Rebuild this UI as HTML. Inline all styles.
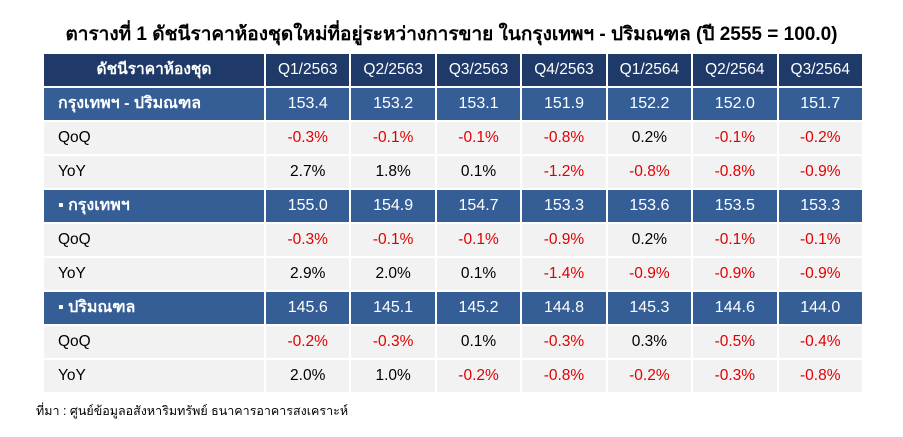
<!DOCTYPE html><html><head><meta charset="utf-8"><style>
body{margin:0;width:903px;height:437px;background:#fff;font-family:"Liberation Sans","Noto Sans CJK SC",sans-serif;position:relative;overflow:hidden}
.t{position:absolute;left:0;width:903px;top:19px;text-align:center;font-weight:bold;font-size:19px;color:#000}
table{position:absolute;left:42px;top:52px;border-collapse:collapse;table-layout:fixed;width:822px}
tr{height:34px}
td{border:2px solid #fff;padding:0;font-size:15.5px;text-align:center;line-height:16px}
td:first-child{text-align:left;padding-left:14px}
tr.h td{background:#1f3a68;color:#fff}
tr.h td:first-child{text-align:center;padding-left:0;font-weight:bold}
tr.s td{background:#355e96;color:#fff;font-size:16px}
tr.s td:first-child{font-weight:bold;font-size:16px}
tr.l td{background:#f2f2f2;color:#000}
.r{color:#e00000!important}
.f{position:absolute;left:36px;top:401px;font-size:12.5px}
</style></head><body>
<div class="t">ตารางที่ 1 ดัชนีราคาห้องชุดใหม่ที่อยู่ระหว่างการขาย ในกรุงเทพฯ - ปริมณฑล (ปี 2555 = 100.0)</div>
<table>
<colgroup><col style="width:222px"><col><col><col><col><col><col><col></colgroup>
<tr class="h"><td>ดัชนีราคาห้องชุด</td><td>Q1/2563</td><td>Q2/2563</td><td>Q3/2563</td><td>Q4/2563</td><td>Q1/2564</td><td>Q2/2564</td><td>Q3/2564</td></tr>
<tr class="s"><td>กรุงเทพฯ - ปริมณฑล</td><td>153.4</td><td>153.2</td><td>153.1</td><td>151.9</td><td>152.2</td><td>152.0</td><td>151.7</td></tr>
<tr class="l"><td>QoQ</td><td class="r">-0.3%</td><td class="r">-0.1%</td><td class="r">-0.1%</td><td class="r">-0.8%</td><td>0.2%</td><td class="r">-0.1%</td><td class="r">-0.2%</td></tr>
<tr class="l"><td>YoY</td><td>2.7%</td><td>1.8%</td><td>0.1%</td><td class="r">-1.2%</td><td class="r">-0.8%</td><td class="r">-0.8%</td><td class="r">-0.9%</td></tr>
<tr class="s"><td>▪ กรุงเทพฯ</td><td>155.0</td><td>154.9</td><td>154.7</td><td>153.3</td><td>153.6</td><td>153.5</td><td>153.3</td></tr>
<tr class="l"><td>QoQ</td><td class="r">-0.3%</td><td class="r">-0.1%</td><td class="r">-0.1%</td><td class="r">-0.9%</td><td>0.2%</td><td class="r">-0.1%</td><td class="r">-0.1%</td></tr>
<tr class="l"><td>YoY</td><td>2.9%</td><td>2.0%</td><td>0.1%</td><td class="r">-1.4%</td><td class="r">-0.9%</td><td class="r">-0.9%</td><td class="r">-0.9%</td></tr>
<tr class="s"><td>▪ ปริมณฑล</td><td>145.6</td><td>145.1</td><td>145.2</td><td>144.8</td><td>145.3</td><td>144.6</td><td>144.0</td></tr>
<tr class="l"><td>QoQ</td><td class="r">-0.2%</td><td class="r">-0.3%</td><td>0.1%</td><td class="r">-0.3%</td><td>0.3%</td><td class="r">-0.5%</td><td class="r">-0.4%</td></tr>
<tr class="l"><td>YoY</td><td>2.0%</td><td>1.0%</td><td class="r">-0.2%</td><td class="r">-0.8%</td><td class="r">-0.2%</td><td class="r">-0.3%</td><td class="r">-0.8%</td></tr>
</table>
<div class="f">ที่มา : ศูนย์ข้อมูลอสังหาริมทรัพย์ ธนาคารอาคารสงเคราะห์</div>
</body></html>
